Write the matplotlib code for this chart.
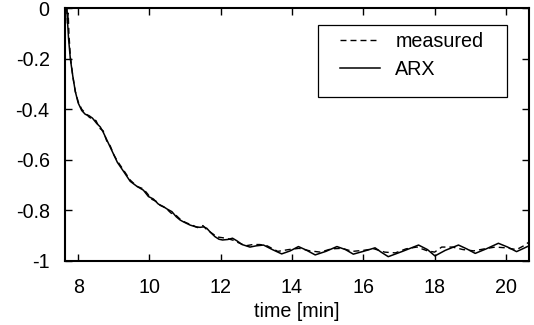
import matplotlib
matplotlib.use('Agg')
import matplotlib.pyplot as plt
from matplotlib.ticker import FuncFormatter

# ── Data ──────────────────────────────────────────────────────────────────────
t_arx = [7.68, 7.70, 7.73, 7.78, 7.85, 7.92, 8.00, 8.10, 8.20, 8.30, 8.40,
         8.52, 8.62, 8.70, 8.80, 8.90, 9.00, 9.10, 9.27, 9.46, 9.65, 9.83,
         9.97, 10.11, 10.25, 10.39, 10.50, 10.63, 10.75, 10.86, 10.95, 11.14,
         11.30, 11.42, 11.52, 11.61, 11.72, 11.84, 11.95, 12.05, 12.20, 12.33,
         12.45, 12.60, 12.82, 13.00, 13.20, 13.45, 13.71, 13.95, 14.18, 14.40,
         14.65, 14.95, 15.26, 15.50, 15.72, 16.00, 16.33, 16.50, 16.70, 17.10,
         17.55, 17.80, 18.01, 18.30, 18.67, 18.90, 19.14, 19.45, 19.79, 20.05,
         20.30, 20.50, 20.65]
y_arx = [0.0, -0.05, -0.12, -0.20, -0.27, -0.33, -0.375, -0.405, -0.42, -0.425,
         -0.435, -0.456, -0.47, -0.49, -0.52, -0.55, -0.58, -0.61, -0.645,
         -0.685, -0.705, -0.72, -0.745, -0.755, -0.775, -0.785, -0.795, -0.805,
         -0.825, -0.838, -0.845, -0.858, -0.865, -0.867, -0.865, -0.871, -0.888,
         -0.904, -0.914, -0.917, -0.915, -0.91, -0.92, -0.935, -0.945, -0.94,
         -0.937, -0.955, -0.972, -0.96, -0.943, -0.957, -0.976, -0.962, -0.943,
         -0.955, -0.973, -0.962, -0.948, -0.965, -0.983, -0.962, -0.937, -0.955,
         -0.98, -0.958, -0.937, -0.952, -0.97, -0.952, -0.93, -0.945, -0.963,
         -0.95, -0.94]

t_meas = [7.68, 7.70, 7.72, 7.74, 7.78, 7.85, 7.92, 8.00, 8.10, 8.20, 8.30,
          8.40, 8.50, 8.60, 8.70, 8.80, 8.90, 9.00, 9.10, 9.27, 9.46, 9.65,
          9.83, 9.95, 10.05, 10.20, 10.30, 10.45, 10.60, 10.75, 10.90, 11.05,
          11.20, 11.35, 11.50, 11.60, 11.75, 11.90, 12.05, 12.20, 12.35, 12.50,
          12.70, 12.90, 13.10, 13.30, 13.60, 13.90, 14.20, 14.50, 14.80, 15.10,
          15.40, 15.70, 16.00, 16.30, 16.60, 16.90, 17.20, 17.50, 17.80, 18.00,
          18.20, 18.50, 18.80, 19.10, 19.40, 19.70, 20.00, 20.30, 20.50, 20.65]
y_meas = [0.0, -0.06, -0.02, -0.10, -0.19, -0.27, -0.33, -0.37, -0.40, -0.415,
          -0.43, -0.44, -0.445, -0.475, -0.485, -0.525, -0.545, -0.58, -0.605,
          -0.64, -0.68, -0.705, -0.715, -0.735, -0.755, -0.765, -0.78, -0.79,
          -0.81, -0.82, -0.84, -0.85, -0.858, -0.868, -0.86, -0.875, -0.89,
          -0.905, -0.908, -0.912, -0.918, -0.928, -0.94, -0.935, -0.935, -0.94,
          -0.962, -0.955, -0.95, -0.96, -0.965, -0.952, -0.95, -0.962, -0.958,
          -0.952, -0.965, -0.968, -0.952, -0.945, -0.96, -0.965, -0.945, -0.945,
          -0.955, -0.96, -0.952, -0.945, -0.948, -0.955, -0.94, -0.925]

x_ticks = [8, 10, 12, 14, 16, 18, 20]
y_ticks = [-1, -0.8, -0.6, -0.4, -0.2, 0]

# ── Figure ────────────────────────────────────────────────────────────────────
plt.rcParams['font.family'] = ['Liberation Sans', 'DejaVu Sans']
plt.rcParams['axes.unicode_minus'] = False
FS = 14.2

fig = plt.figure(figsize=(5.34, 3.25), dpi=100)
ax = fig.add_axes([0.1217, 0.197, 0.869, 0.778])

ax.plot(t_meas, y_meas, color='black', lw=1.0, ls=(0, (4.3, 2.9)), label='measured')
ax.plot(t_arx, y_arx, color='black', lw=1.1, label='ARX')

ax.set_xlim(7.63, 20.65)
ax.set_ylim(-1, 0)
ax.set_xticks(x_ticks)
ax.set_yticks(y_ticks)
ax.yaxis.set_major_formatter(FuncFormatter(lambda v, p: f'{v:g}'))

for s in ax.spines.values():
    s.set_linewidth(1.5)
ax.tick_params(direction='in', length=5, width=1.0, labelsize=FS,
               top=True, right=True)
ax.tick_params(axis='x', pad=12)
ax.tick_params(axis='y', pad=11)

ax.set_xlabel('time [min]', fontsize=FS, labelpad=4)

# legend box drawn by hand (the reference has extra room left/right)
ax.add_patch(plt.Rectangle((0.545, 0.648), 0.408, 0.285, transform=ax.transAxes,
                           facecolor='white', edgecolor='black', lw=0.9, zorder=4))
leg = ax.legend(loc='upper left', bbox_to_anchor=(0.593, 0.905), fontsize=FS,
                frameon=False, handlelength=2.0, handletextpad=0.8,
                borderpad=0, labelspacing=0.45, borderaxespad=0)
leg.set_zorder(5)

plt.savefig('out.png', dpi=100)
